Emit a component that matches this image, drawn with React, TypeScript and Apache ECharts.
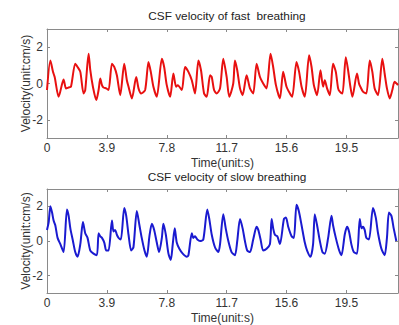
import React, { useEffect, useRef } from "react";
import * as echarts from "echarts";

const xTicks = [0, 3.9, 7.8, 11.7, 15.6, 19.5];
const yTicks = [-2, 0, 2];
const xMax = 22.86;

const fastTime = [
  0.0, 0.22, 0.39, 0.5, 0.76, 1.08, 1.24, 1.41, 1.56, 1.84, 1.99, 2.17, 2.38, 2.49, 2.71, 2.82, 2.99, 3.21, 3.36, 3.47,
  3.58, 3.68, 3.86, 4.01, 4.23, 4.38, 4.55, 4.77, 5.03, 5.2, 5.31, 5.53, 5.81, 5.96, 6.13, 6.39, 6.61, 6.76, 6.93, 7.15,
  7.48, 7.63, 7.8, 8.02, 8.23, 8.41, 8.52, 8.78, 8.99, 9.21, 9.43, 9.64, 9.86, 10.03, 10.23, 10.4, 10.62, 10.73, 10.88, 11.05,
  11.27, 11.48, 11.7, 11.87, 12.13, 12.24, 12.39, 12.57, 12.74, 13.0, 13.22, 13.43, 13.65, 13.87, 14.08, 14.3, 14.56, 14.73, 14.91, 15.17,
  15.38, 15.6, 15.82, 15.97, 16.25, 16.42, 16.58, 16.79, 17.07, 17.23, 17.38, 17.59, 17.81, 17.98, 18.09, 18.24, 18.42, 18.63, 18.81, 18.96,
  19.07, 19.24, 19.46, 19.61, 19.76, 19.89, 20.19, 20.32, 20.41, 20.58, 20.8, 21.02, 21.19, 21.34, 21.56, 21.84, 21.99, 22.14, 22.32, 22.49,
  22.64, 22.86,
];
const fastVelocity = [
  -0.36, 1.27, 0.64, 0.36, -0.73, 0.22, -0.27, -0.22, -0.18, 1.09, 0.91, 0.64, -0.55, -0.36, 1.64, 0.73, -0.18, -0.91, -0.36, 0.27,
  -0.09, -0.22, -0.27, -0.36, 1.09, 0.91, 0.45, -0.64, 1.09, 0.18, -0.18, -0.82, 0.36, -0.27, -0.55, -0.36, 1.18, 0.64, -0.18, -0.73,
  1.36, 0.91, -0.09, -0.73, 0.55, -0.18, -0.09, -0.36, 0.91, 0.64, 0.18, -0.55, 1.27, 0.73, -0.55, -0.73, 0.45, 0.36, -0.36, -0.55,
  -0.27, 1.36, 0.36, -0.73, 0.0, 1.27, 0.73, -0.27, -0.64, 0.45, -0.27, -0.55, 1.09, 0.36, 0.0, -0.27, 1.64, 0.91, -0.09, -0.82,
  0.64, -0.18, -0.55, -0.73, 1.18, 0.64, -0.18, -0.73, 1.55, 0.91, -0.09, -0.64, 0.73, -0.18, 0.18, -0.27, -0.64, 1.09, 0.64, -0.27,
  -0.45, -0.55, 1.45, 0.73, -0.18, -0.73, 0.55, 0.0, -0.18, -0.45, -0.55, 1.27, 0.64, -0.27, -0.64, 1.36, 0.55, -0.27, -0.82, -0.36,
  0.09, -0.09,
];

const slowTime = [
  0.0, 0.11, 0.22, 0.33, 0.43, 0.54, 0.69, 0.87, 1.08, 1.3, 1.41, 1.52, 1.69, 1.84, 1.99, 2.17, 2.34, 2.49, 2.64, 2.82,
  3.03, 3.25, 3.36, 3.47, 3.58, 3.73, 3.86, 4.01, 4.23, 4.33, 4.44, 4.55, 4.66, 4.81, 5.03, 5.16, 5.31, 5.48, 5.63, 5.85,
  6.02, 6.17, 6.35, 6.5, 6.67, 6.83, 6.98, 7.15, 7.3, 7.48, 7.58, 7.74, 7.91, 8.06, 8.19, 8.32, 8.45, 8.62, 8.84, 9.1,
  9.21, 9.43, 9.53, 9.64, 9.79, 9.97, 10.18, 10.44, 10.57, 10.73, 10.94, 11.16, 11.27, 11.48, 11.64, 11.81, 12.02, 12.24, 12.39, 12.57,
  12.74, 12.89, 13.04, 13.22, 13.43, 13.65, 13.76, 13.91, 14.08, 14.3, 14.52, 14.63, 14.73, 14.84, 15.0, 15.17, 15.43, 15.56, 15.71, 15.93,
  16.08, 16.25, 16.4, 16.58, 16.79, 16.94, 17.16, 17.33, 17.44, 17.59, 17.77, 17.94, 18.09, 18.31, 18.53, 18.63, 18.81, 19.03, 19.18, 19.39,
  19.54, 19.67, 19.82, 19.98, 20.19, 20.37, 20.48, 20.58, 20.69, 20.8, 20.97, 21.23, 21.41, 21.56, 21.78, 21.99, 22.14, 22.27, 22.43, 22.58,
  22.75,
];
const slowVelocity = [
  0.64, 1.09, 2.0, 1.64, 1.18, 0.91, 0.18, -0.18, -0.64, 1.82, 1.45, 0.73, 0.0, -0.64, -0.91, -0.18, 1.09, 0.45, 0.18, -0.55,
  -0.73, -0.82, 0.45, 0.27, 0.18, -0.09, -0.55, -0.55, 1.18, 0.55, 0.64, 0.36, 0.18, 0.09, 1.91, 1.45, 0.36, -0.55, -0.36, 1.73,
  0.91, 0.18, -0.55, -0.91, 0.27, 1.0, 0.64, -0.09, -0.64, 0.18, 1.0, 0.36, -0.73, -1.09, -0.18, 0.73, -0.09, -0.45, -0.73, -0.91,
  -0.82, 0.45, 0.18, 0.27, 0.09, 0.0, 0.09, 1.82, 1.27, 0.36, -0.36, -0.64, -0.18, 1.55, 0.73, 0.0, -0.64, -0.82, 0.0, 1.27,
  0.73, 0.0, -0.55, -0.64, 0.09, 0.82, 0.64, 0.09, -0.55, -0.45, -0.18, 1.27, 0.73, 0.36, 0.27, -0.18, 1.27, 1.36, 0.82, 0.27,
  0.18, 2.09, 1.73, 0.91, -0.09, -0.55, -0.91, -0.18, 1.55, 0.91, 0.0, -0.64, -0.73, 0.18, 1.45, 0.91, 0.18, -0.55, -0.82, 0.36,
  0.82, 0.55, -0.18, -0.64, -0.73, 1.27, 0.73, 0.82, 0.64, 0.18, 0.09, 1.91, 1.36, 0.45, -0.45, -0.82, 0.18, 1.64, 1.45, 0.73,
  0.0,
];

const titles = ["CSF velocity of fast  breathing", "CSF velocity of slow breathing"];

const boxColor = "#8a8a8a";
const labelColor = "#333";
const font = "Liberation Sans, Arial, sans-serif";

function xAxes(gridIndex: number) {
  return [
    {
      type: "value",
      gridIndex,
      position: "bottom",
      min: 0,
      max: xMax,
      name: "Time(unit:s)",
      nameLocation: "middle",
      nameGap: 19,
      nameMoveOverlap: false,
      nameTextStyle: { fontSize: 12, color: labelColor, fontFamily: font },
      axisLine: { show: true, onZero: false, lineStyle: { color: boxColor, width: 1 } },
      axisTick: { show: true, inside: true, length: 3, customValues: xTicks, lineStyle: { color: boxColor } },
      axisLabel: { customValues: xTicks, fontSize: 12, color: labelColor, margin: 4, fontFamily: font },
      splitLine: { show: false },
    },
    {
      type: "value",
      gridIndex,
      position: "top",
      min: 0,
      max: xMax,
      axisLine: { show: true, onZero: false, lineStyle: { color: boxColor, width: 1 } },
      axisTick: { show: true, inside: true, length: 3, customValues: xTicks, lineStyle: { color: boxColor } },
      axisLabel: { show: false },
      splitLine: { show: false },
    },
  ];
}

function yAxes(gridIndex: number) {
  return [
    {
      type: "value",
      gridIndex,
      position: "left",
      min: -3,
      max: 3,
      name: "Velocity(unit:cm/s)",
      nameLocation: "middle",
      nameGap: 15,
      nameMoveOverlap: false,
      nameTextStyle: { fontSize: 12, color: labelColor, fontFamily: font },
      axisLine: { show: true, onZero: false, lineStyle: { color: boxColor, width: 1 } },
      axisTick: { show: true, inside: true, length: 3, customValues: yTicks, lineStyle: { color: boxColor } },
      axisLabel: { customValues: yTicks, fontSize: 12, color: labelColor, margin: 4, fontFamily: font },
      splitLine: { show: false },
    },
    {
      type: "value",
      gridIndex,
      position: "right",
      min: -3,
      max: 3,
      axisLine: { show: true, onZero: false, lineStyle: { color: boxColor, width: 1 } },
      axisTick: { show: true, inside: true, length: 3, customValues: yTicks, lineStyle: { color: boxColor } },
      axisLabel: { show: false },
      splitLine: { show: false },
    },
  ];
}

export default function App() {
  const ref = useRef<HTMLDivElement>(null);
  useEffect(() => {
    if (!ref.current) return;
    const chart = echarts.init(ref.current, null, { renderer: "svg" });
    const fastData = fastTime.map((t, i) => [t, fastVelocity[i]]);
    const slowData = slowTime.map((t, i) => [t, slowVelocity[i]]);
    chart.setOption({
      animation: false,
      backgroundColor: "#ffffff",
      title: [
        {
          text: titles[0],
          left: 222,
          top: 5,
          textAlign: "center",
          textStyle: { fontSize: 11.8, fontWeight: "normal", color: "#222", fontFamily: font },
        },
        {
          text: titles[1],
          left: 222,
          top: 166,
          textAlign: "center",
          textStyle: { fontSize: 11.8, fontWeight: "normal", color: "#222", fontFamily: font },
        },
      ],
      grid: [
        { left: 47, right: 1, top: 29, height: 109 },
        { left: 47, right: 1, top: 189, height: 109 },
      ],
      xAxis: [...xAxes(0), ...xAxes(1)],
      yAxis: [...yAxes(0), ...yAxes(1)],
      series: [
        {
          type: "line",
          xAxisIndex: 0,
          yAxisIndex: 0,
          data: fastData,
          showSymbol: false,
          smooth: 0.25,
          lineStyle: { color: "#e81010", width: 2 },
        },
        {
          type: "line",
          xAxisIndex: 2,
          yAxisIndex: 2,
          data: slowData,
          showSymbol: false,
          smooth: 0.25,
          lineStyle: { color: "#1a1ad0", width: 2 },
        },
      ],
    });
    return () => chart.dispose();
  }, []);
  return (
    <div
      ref={ref}
      style={{ position: "fixed", left: 0, top: 0, width: 399, height: 325, background: "#fff" }}
    />
  );
}
